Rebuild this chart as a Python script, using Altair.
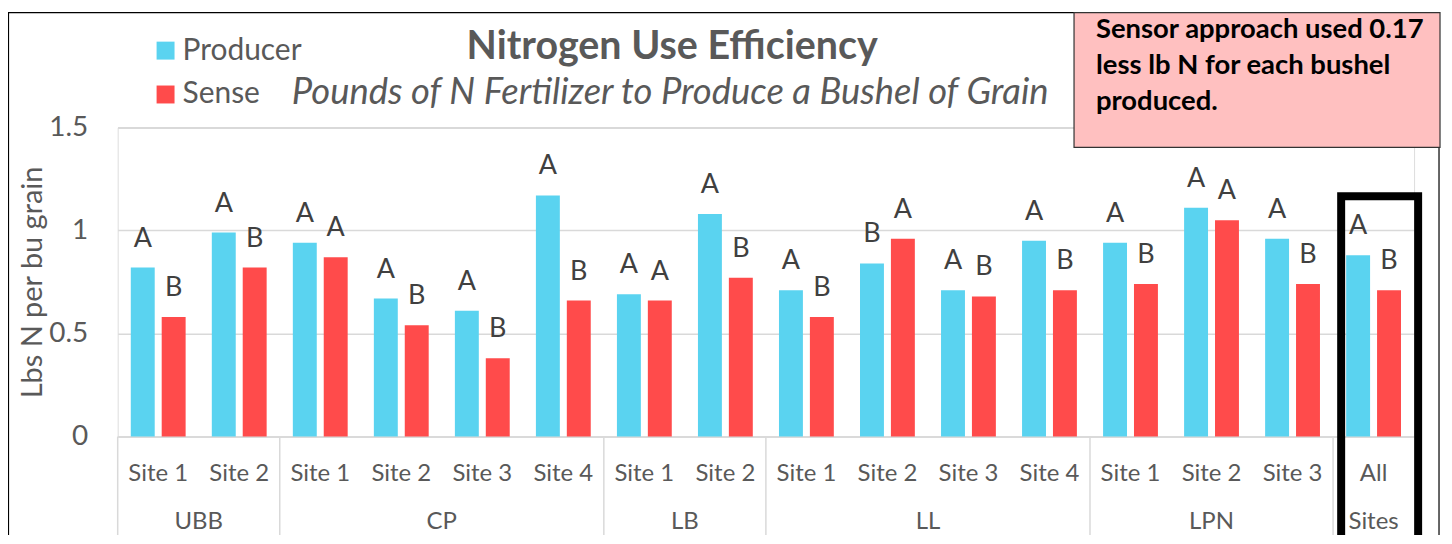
import altair as alt
import pandas as pd

# ---------------- data ----------------
groups = ["UBB", "UBB", "CP", "CP", "CP", "CP", "LB", "LB", "LL", "LL", "LL", "LL", "LPN", "LPN", "LPN", "All Sites"]
sites = ["Site 1", "Site 2", "Site 1", "Site 2", "Site 3", "Site 4", "Site 1", "Site 2",
         "Site 1", "Site 2", "Site 3", "Site 4", "Site 1", "Site 2", "Site 3", "All"]
producer = [0.82, 0.99, 0.94, 0.67, 0.61, 1.17, 0.69, 1.08, 0.71, 0.84, 0.71, 0.95, 0.94, 1.11, 0.96, 0.88]
sense = [0.58, 0.82, 0.87, 0.54, 0.38, 0.66, 0.66, 0.77, 0.58, 0.96, 0.68, 0.71, 0.74, 1.05, 0.74, 0.71]
producer_letters = ["A", "A", "A", "A", "A", "A", "A", "A", "A", "B", "A", "A", "A", "A", "A", "A"]
sense_letters = ["B", "B", "A", "B", "B", "B", "A", "B", "B", "A", "B", "B", "B", "A", "B", "B"]
series_names = ["Producer", "Sense"]
series_colors = ["#5AD3F0", "#FF4B4B"]
group_names = ["UBB", "CP", "LB", "LL", "LPN", "Sites"]
group_start = [0, 2, 6, 8, 12, 15]
group_end = [2, 6, 8, 12, 15, 16]
highlight_start = [15.1]
highlight_end = [16.05]
highlight_top = [1.166]
y_ticks = [0, 0.5, 1, 1.5]
title_text = "Nitrogen Use Efficiency"
subtitle_text = "Pounds of N Fertilizer to Produce a Bushel of Grain"
y_title = "Lbs N per bu grain"
note_lines = ["Sensor approach used 0.17", "less lb N for each bushel", "produced."]

# ---------------- tables ----------------
keys = [f"c{i:02d}" for i in range(len(sites))]
rows = []
for i, k in enumerate(keys):
    rows.append(dict(key=k, site=sites[i], series=series_names[0], value=producer[i], letter=producer_letters[i]))
    rows.append(dict(key=k, site=sites[i], series=series_names[1], value=sense[i], letter=sense_letters[i]))
df = pd.DataFrame(rows)
cat_df = pd.DataFrame(dict(key=keys, site=sites))
grp_df = pd.DataFrame(dict(name=group_names, start=group_start, end=group_end))
box_df = pd.DataFrame(dict(start=highlight_start, end=highlight_end, value=highlight_top))
one = pd.DataFrame(dict(a=[0]))

W, H = 1300, 310
FONT = "Lato"
GRAY = "#595959"
LIGHT = "#D9D9D9"

x_band = alt.X("key:N",
               scale=alt.Scale(domain=keys, paddingInner=0, paddingOuter=0),
               axis=alt.Axis(labels=False, ticks=False, domain=True, domainColor=LIGHT,
                             domainWidth=1.5, title=None, grid=False))
x_off = alt.XOffset("series:N", scale=alt.Scale(domain=series_names, paddingInner=0.2258, paddingOuter=0.4235))
y_enc = alt.Y("value:Q",
              scale=alt.Scale(domain=[0, 1.5], nice=False, zero=True),
              axis=alt.Axis(values=y_ticks, labelExpr="datum.value", title=y_title,
                            labelFont=FONT, labelFontSize=28, labelColor=GRAY, labelPadding=30,
                            ticks=False, domain=False, grid=True, gridColor=LIGHT, gridWidth=1.5,
                            titleFont=FONT, titleFontSize=29, titleColor=GRAY, titleFontWeight="normal",
                            titleX=-85, titleY=155, titleAngle=270, titleAlign="center",
                            titleBaseline="middle"))
x_quant = alt.Scale(domain=[0, 16], nice=False, zero=False)

bars = alt.Chart(df).mark_bar().encode(
    x=x_band, xOffset=x_off, y=y_enc,
    color=alt.Color("series:N", scale=alt.Scale(domain=series_names, range=series_colors),
                    legend=alt.Legend(title=None, orient="none", legendX=33, legendY=-92,
                                      symbolType="square", symbolSize=324, symbolStrokeWidth=0,
                                      labelFont=FONT, labelFontSize=30, labelColor=GRAY,
                                      labelOffset=2, rowPadding=14)),
)

letters = alt.Chart(df).mark_text(font=FONT, fontSize=27, color="#404040", dy=-21,
                                  baseline="alphabetic", align="center").encode(
    x=x_band, xOffset=x_off, y=y_enc, text="letter:N")

site_labels = alt.Chart(cat_df).mark_text(font=FONT, fontSize=24, color=GRAY,
                                          baseline="alphabetic", align="center").encode(
    x=x_band, y=alt.value(H + 45), text="site:N")

group_labels = alt.Chart(grp_df).transform_calculate(mid="(datum.start + datum.end) / 2").mark_text(
    font=FONT, fontSize=24, color=GRAY, baseline="alphabetic", align="center").encode(
    x=alt.X("mid:Q", scale=x_quant, axis=None), y=alt.value(H + 93), text="name:N")

separators = alt.Chart(grp_df).mark_rule(color=LIGHT, strokeWidth=1.5).encode(
    x=alt.X("start:Q", scale=x_quant, axis=None), y=alt.value(H), y2=alt.value(H + 105))

highlight = alt.Chart(box_df).mark_rect(fillOpacity=0, stroke="black", strokeWidth=8).encode(
    x=alt.X("start:Q", scale=x_quant, axis=None), x2="end:Q", y=y_enc, y2=alt.value(H + 140))

frame = alt.Chart(one).mark_rect(fillOpacity=0, stroke="black", strokeWidth=1.2).encode(
    x=alt.value(-109.5), x2=alt.value(1325), y=alt.value(-115), y2=alt.value(H + 140))

note_box = alt.Chart(one).mark_rect(fill="#FFC0C0", stroke="#333333", strokeWidth=1.2).encode(
    x=alt.value(959), x2=alt.value(1326), y=alt.value(-115), y2=alt.value(20))

note_text = alt.Chart(one).mark_text(text=note_lines, font=FONT, fontSize=27.5, fontWeight="bold",
                                     color="black", align="left", baseline="alphabetic",
                                     lineHeight=36.5).encode(x=alt.value(981), y=alt.value(-90))

title = alt.Chart(one).mark_text(text=title_text, font=FONT, fontSize=39.5, fontWeight="bold",
                                 color=GRAY, align="center", baseline="alphabetic").encode(
    x=alt.value(556), y=alt.value(-69))

subtitle = alt.Chart(one).mark_text(text=subtitle_text, font=FONT, fontSize=36.5, fontStyle="italic",
                                    color=GRAY, align="center", baseline="alphabetic").encode(
    x=alt.value(554), y=alt.value(-23))

chart = alt.layer(
    frame, bars, letters, site_labels, separators, group_labels, highlight,
    note_box, note_text, title, subtitle
).resolve_scale(x="independent").properties(
    width=W, height=H,
    padding={"left": 110, "top": 119, "right": 30, "bottom": 98},
    autosize=alt.AutoSizeParams(type="none"),
).configure_view(stroke=None).configure(background="white")

chart.save("out.html", embed_options={"renderer": "svg", "actions": False})
